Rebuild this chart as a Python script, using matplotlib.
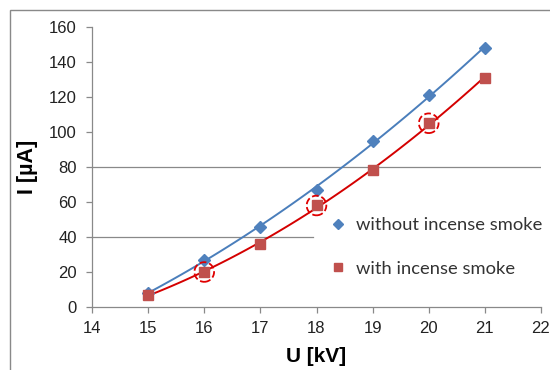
import matplotlib
matplotlib.use('Agg')
import matplotlib.pyplot as plt
import numpy as np
from matplotlib.lines import Line2D
from matplotlib.patches import Rectangle

# measured data
U = [15, 16, 17, 18, 19, 20, 21]
I_without = [8, 27, 46, 67, 95, 121, 148]
I_with = [7, 20, 36, 58, 78, 105, 131]
marked_U = [16, 18, 20]
marked_I = [20, 58, 105]

xticks = [14, 15, 16, 17, 18, 19, 20, 21, 22]
yticks = [0, 20, 40, 60, 80, 100, 120, 140, 160]

blue_line = '#4a7ebb'
blue_mark = '#4f81bd'
red_line = '#d40000'
red_mark = '#c0504d'
grey = '#898989'

plt.rcParams['font.family'] = ['Liberation Sans', 'DejaVu Sans']

fig = plt.figure(figsize=(5.5, 3.7), dpi=100)
ax = fig.add_axes([92/550, 1-307/370, (541-92)/550, (307-27)/370])

# outer chart frame (cut off at right and bottom)
fig.patches.append(Rectangle((10/550, -0.1), 1.2, 1.1 - 10/370, transform=fig.transFigure,
                             fill=False, edgecolor=grey, lw=1.0))

# the two visible gridlines
ax.axhline(80, color=grey, lw=0.9, zorder=0)
ax.plot([14, 17.94], [40, 40], color=grey, lw=0.9, zorder=0, clip_on=False)

# trendlines (2nd order fit of each series)
xs = np.linspace(15, 21, 100)
for vals, c in [(I_without, blue_line), (I_with, red_line)]:
    p = np.polyfit(U, vals, 2)
    ax.plot(xs, np.polyval(p, xs), color=c, lw=1.4, zorder=2)

ax.plot(U, I_without, 'D', color=blue_mark, ms=6.5, zorder=3)
ax.plot(U, I_with, 's', color=red_mark, ms=6.5, zorder=3)
ax.scatter(marked_U, marked_I, s=200, facecolors='none', edgecolors='#e00000',
           linewidths=1.3, linestyles='--', zorder=4)

ax.set_xlim(14, 22)
ax.set_ylim(0, 160)
ax.set_xticks(xticks)
ax.set_yticks(yticks)
ax.tick_params(colors=grey, labelcolor='#222222', labelsize=12, length=4, width=0.9)
ax.tick_params(axis='y', pad=7)
ax.tick_params(axis='x', pad=6)
for s in ['top', 'right']:
    ax.spines[s].set_visible(False)
for s in ['left', 'bottom']:
    ax.spines[s].set_color(grey)
    ax.spines[s].set_linewidth(0.9)

ax.set_xlabel('U [kV]', fontsize=15, fontweight='bold', labelpad=8)
ax.set_ylabel('I [\u00b5A]', fontsize=15.5, fontweight='bold', labelpad=8)

handles = [Line2D([], [], ls='none', marker='D', color=blue_mark, ms=5.5),
           Line2D([], [], ls='none', marker='s', color=red_mark, ms=5.5)]
leg = ax.legend(handles, ['without incense smoke', 'with incense smoke'],
                loc='upper left', bbox_to_anchor=((320-92)/449, (307-210)/280),
                frameon=False, labelspacing=1.5, borderaxespad=0,
                handletextpad=0.35, handlelength=1.2, prop={'family': 'Lato', 'size': 13.2})
for t in leg.get_texts():
    t.set_color('#333333')

fig.savefig('out.png', dpi=100)
